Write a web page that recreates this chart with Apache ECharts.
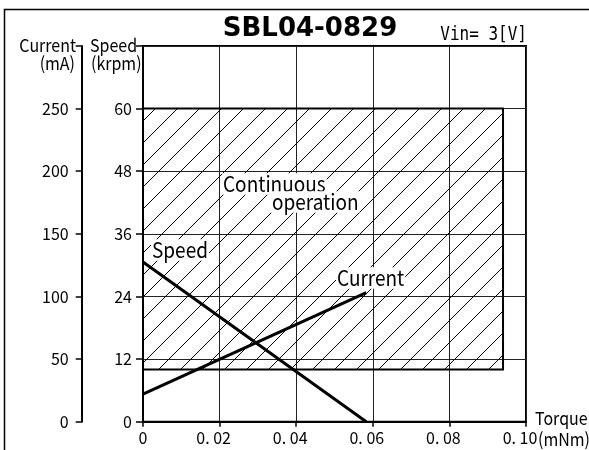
<!DOCTYPE html>
<html><head><meta charset="utf-8">
<script src="https://cdn.jsdelivr.net/npm/echarts@6/dist/echarts.min.js"></script>
<style>html,body{margin:0;padding:0;background:#fff}#c{width:589px;height:450px}</style>
</head><body><div id="c"></div>
<script>
// ---- data ----
const torqueTicks = [0, 0.02, 0.04, 0.06, 0.08, 0.10];
const torqueTickLabels = ['0', '0. 02', '0. 04', '0. 06', '0. 08', '0. 10'];
const speedTorque = [0, 0.0583];
const speedValues = [30.6, 0];
const currentTorque = [0, 0.0583];
const currentValues = [22, 103];
const continuousTorque = [0, 0.094];
const continuousSpeed = [10, 60];
const speedAxis = { min: 0, max: 72, interval: 12 };
const currentAxis = { min: 0, max: 300, interval: 50 };

// ---- hatch pattern ----
const S = 22;
const pc = document.createElement('canvas');
pc.width = S; pc.height = S;
const g = pc.getContext('2d');
g.strokeStyle = '#000'; g.lineWidth = 1;
g.beginPath();
g.moveTo(-2, S + 2); g.lineTo(S + 2, -2);
g.stroke();

const FONT = '"Noto Sans CJK JP", "Noto Sans", sans-serif';
const MONO = '"DejaVu Sans Mono", "Liberation Mono", monospace';
const chart = echarts.init(document.getElementById('c'), null, { renderer: 'canvas' });

const lbl = (text, x, y, size, align, bg, family, sy) => ({
  type: 'text', x: x, y: y, z: 100, scaleY: sy || 1.12,
  style: {
    text: text, x: 0, y: 0, fill: '#000', font: size + 'px ' + (family || FONT),
    textAlign: align, textVerticalAlign: 'middle',
    backgroundColor: bg ? '#fff' : undefined, padding: bg ? [0, 1, 0, 1] : 0
  }
});

chart.setOption({
  animation: false,
  backgroundColor: '#fff',
  grid: { left: 143, right: 63, top: 46, bottom: 28.3, show: true, borderColor: '#000', borderWidth: 2, backgroundColor: 'transparent' },
  xAxis: {
    type: 'value', min: 0, max: 0.10, interval: 0.02,
    axisLine: { show: true, onZero: false, lineStyle: { color: '#000', width: 2 } },
    axisTick: { show: true, inside: false, length: 5, lineStyle: { color: '#000', width: 1.5 } },
    splitLine: { show: true, lineStyle: { color: '#222', width: 1 } },
    axisLabel: {
      margin: 8, color: '#000', fontFamily: FONT, fontSize: 16,
      formatter: v => {
        const i = torqueTicks.findIndex(t => Math.abs(t - v) < 1e-9);
        if (i < 0) return '';
        return i === 0 ? '{a|' + torqueTickLabels[i] + '}' : '{b|' + torqueTickLabels[i] + '}';
      },
      rich: {
        a: { fontFamily: FONT, fontSize: 16, color: '#000' },
        b: { fontFamily: FONT, fontSize: 16, color: '#000', padding: [0, 12, 0, 0] }
      }
    }
  },
  yAxis: [
    {
      type: 'value', position: 'left', min: speedAxis.min, max: speedAxis.max, interval: speedAxis.interval,
      axisLine: { show: true, lineStyle: { color: '#000', width: 2 } },
      axisTick: { show: true, length: 7, lineStyle: { color: '#000', width: 1.5 } },
      splitLine: { show: true, lineStyle: { color: '#222', width: 1 } },
      axisLabel: { margin: 11, color: '#000', fontFamily: FONT, fontSize: 16, formatter: v => v === speedAxis.max ? '' : String(v) }
    },
    {
      type: 'value', position: 'left', offset: 61.3, min: currentAxis.min, max: currentAxis.max, interval: currentAxis.interval,
      axisLine: { show: true, lineStyle: { color: '#000', width: 2 } },
      axisTick: { show: true, length: 6, lineStyle: { color: '#000', width: 1.5 } },
      splitLine: { show: false },
      axisLabel: { margin: 13, color: '#000', fontFamily: FONT, fontSize: 16, formatter: v => v === currentAxis.max ? '' : String(v) }
    }
  ],
  series: [
    {
      name: 'Speed', type: 'line', yAxisIndex: 0, symbol: 'none', z: 5,
      lineStyle: { color: '#000', width: 3 },
      data: speedTorque.map((t, i) => [t, speedValues[i]]),
      markArea: {
        silent: true,
        itemStyle: { color: { image: pc, repeat: 'repeat' }, borderColor: '#000', borderWidth: 2 },
        data: [[{ coord: [continuousTorque[0], continuousSpeed[1]] }, { coord: [continuousTorque[1], continuousSpeed[0]] }]]
      }
    },
    {
      name: 'Current', type: 'line', yAxisIndex: 1, symbol: 'none', z: 5,
      lineStyle: { color: '#000', width: 3 },
      data: currentTorque.map((t, i) => [t, currentValues[i]])
    }
  ],
  graphic: [
    { type: 'rect', z: 0, shape: { x: 4.5, y: 9.5, width: 700, height: 600 }, style: { fill: 'none', stroke: '#000', lineWidth: 1.5 } },
    { type: 'text', x: 310, y: 29, z: 100, style: { text: 'SBL04-0829', fill: '#000', font: 'bold 26px "DejaVu Sans", sans-serif', textAlign: 'center', textVerticalAlign: 'middle' } },
    lbl('Vin= 3[V]', 527, 35, 16, 'right', false, MONO, 1.2),
    lbl('Current', 76, 45, 16, 'right'),
    lbl('(mA)', 75, 63, 16, 'right'),
    lbl('Speed', 90, 45, 16, 'left'),
    lbl('(krpm)', 91, 63, 16, 'left'),
    lbl('Continuous', 222, 184, 19, 'left', true),
    lbl('operation', 271, 202, 19, 'left', true),
    lbl('Speed', 151, 250, 19, 'left', true),
    lbl('Current', 336, 278, 19, 'left', true),
    lbl('Torque', 535, 418, 16, 'left'),
    lbl('(mNm)', 538, 439, 16, 'left')
  ]
});
</script></body></html>
